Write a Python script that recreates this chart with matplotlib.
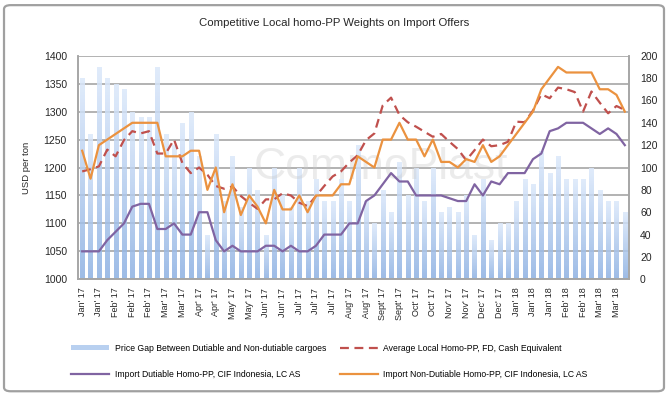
import matplotlib
matplotlib.use("Agg")
import matplotlib.pyplot as plt
import numpy as np
from matplotlib.colors import LinearSegmentedColormap
from matplotlib.lines import Line2D
from matplotlib.patches import Patch, FancyBboxPatch

plt.rcParams["font.family"] = ["Liberation Sans", "DejaVu Sans"]

# colours (Excel-like palette)
C_BAR_TOP = "#dce9fb"
C_BAR_BOT = "#8cb0e2"
C_LOCAL = "#c0504d"
C_DUT = "#8064a2"
C_NONDUT = "#eb923f"
C_GRID = "#a6a6a6"
C_TXT = "#262626"

# weekly observations, labels on every second week
TICK_LABELS = [
    "Jan' 17", "Jan' 17", "Feb' 17", "Feb' 17", "Feb' 17", "Mar' 17", "Mar' 17",
    "Apr' 17", "Apr' 17", "May' 17", "May' 17", "Jun' 17", "Jun' 17",
    "Jul' 17", "Jul' 17", "Jul' 17", "Aug' 17", "Aug' 17", "Sept' 17", "Sept' 17",
    "Oct' 17", "Oct' 17", "Nov' 17", "Nov' 17", "Dec' 17", "Dec' 17",
    "Jan' 18", "Jan' 18", "Jan' 18", "Feb' 18", "Feb' 18", "Mar' 18", "Mar' 18",
]

# right axis (USD/ton gap)
price_gap = [
    180, 130, 190, 180, 175, 170, 150, 145, 145, 190,
    130, 120, 140, 150, 110, 40, 130, 70, 110, 65,
    100, 80, 40, 100, 75, 65, 100, 70, 90, 70,
    70, 90, 70, 120, 70, 50, 80, 60, 105, 75,
    100, 70, 100, 60, 65, 60, 75, 40, 90, 35,
    50, 50, 70, 90, 85, 115, 95, 110, 90, 90,
    90, 100, 80, 70, 70, 60,
]

# left axis (USD per ton)
local_avg = [
    1193, 1197, 1202, 1232, 1220, 1249, 1265, 1261, 1265, 1225,
    1225, 1250, 1208, 1190, 1200, 1187, 1167, 1162, 1166, 1149,
    1137, 1126, 1143, 1143, 1154, 1150, 1137, 1131, 1149, 1167,
    1184, 1193, 1209, 1222, 1249, 1261, 1311, 1325, 1294, 1281,
    1273, 1264, 1255, 1260, 1246, 1233, 1213, 1231, 1250, 1238,
    1240, 1246, 1282, 1281, 1302, 1331, 1324, 1343, 1340, 1335,
    1300, 1336, 1316, 1297, 1310, 1303,
]
dutiable = [
    1050, 1050, 1050, 1070, 1085, 1100, 1130, 1135, 1135, 1090,
    1090, 1100, 1080, 1080, 1120, 1120, 1070, 1050, 1060, 1050,
    1050, 1050, 1060, 1060, 1050, 1060, 1050, 1050, 1060, 1080,
    1080, 1080, 1100, 1100, 1140, 1150, 1170, 1190, 1175, 1175,
    1150, 1150, 1150, 1150, 1145, 1140, 1140, 1170, 1150, 1175,
    1170, 1190, 1190, 1190, 1215, 1225, 1265, 1270, 1280, 1280,
    1280, 1270, 1260, 1270, 1260, 1240,
]
non_dutiable = [
    1230, 1180, 1240, 1250, 1260, 1270, 1280, 1280, 1280, 1280,
    1220, 1220, 1220, 1230, 1230, 1160, 1200, 1120, 1170, 1115,
    1150, 1130, 1100, 1160, 1125, 1125, 1150, 1120, 1150, 1150,
    1150, 1170, 1170, 1220, 1210, 1200, 1250, 1250, 1280, 1250,
    1250, 1220, 1250, 1210, 1210, 1200, 1215, 1210, 1240, 1210,
    1220, 1240, 1260, 1280, 1300, 1340, 1360, 1380, 1370, 1370,
    1370, 1370, 1340, 1340, 1330, 1300,
]

x = np.arange(len(price_gap))

fig = plt.figure(figsize=(6.68, 3.96), dpi=100)
fig.patch.set_facecolor("white")

# rounded outer frame
fig.patches.append(FancyBboxPatch(
    (0.006, 0.012), 0.988, 0.975, boxstyle="round,pad=0,rounding_size=0.01",
    transform=fig.transFigure, facecolor="none", edgecolor="#a0a0a0",
    linewidth=1.6))

ax = fig.add_axes([0.1168, 0.2947, 0.8248, 0.5646])   # bars, right scale
ax2 = ax.twinx()                                       # lines, left scale

# --- bars with vertical gradient
cmap = LinearSegmentedColormap.from_list("bar", [C_BAR_BOT, C_BAR_TOP])
grad = np.linspace(0, 1, 256).reshape(-1, 1)
bars = ax.bar(x, price_gap, width=0.5, color="none", edgecolor="none", zorder=2)
for b in bars:
    im = ax.imshow(grad, extent=[b.get_x(), b.get_x() + b.get_width(), 0, b.get_height()],
                   origin="lower", aspect="auto", cmap=cmap, alpha=0.85, zorder=2)
    im.set_clip_path(b)

ax.set_xlim(-0.5, len(x) - 0.5)
ax.set_ylim(0, 200)
ax.set_yticks(np.arange(0, 201, 20))
ax.yaxis.tick_right()
for yv in np.arange(0, 201, 25):
    ax.axhline(yv, color=C_GRID, linewidth=1.2, zorder=1)

# faint watermark
ax.text(0.55, 0.50, "CommoPlast", transform=ax.transAxes, ha="center", va="center",
        fontsize=32, color="#c8c8c8", alpha=0.35, zorder=3)

# --- lines
ax2.plot(x, local_avg, color=C_LOCAL, linewidth=1.6, dashes=(4, 2.5), zorder=3)
ax2.plot(x, dutiable, color=C_DUT, linewidth=1.6, zorder=3)
ax2.plot(x, non_dutiable, color=C_NONDUT, linewidth=1.6, zorder=3)
ax2.set_ylim(1000, 1400)
ax2.set_yticks(np.arange(1000, 1401, 50))
ax2.yaxis.tick_left()
ax2.yaxis.set_label_position("left")
ax2.set_ylabel("USD per ton", fontsize=6.8, color=C_TXT, labelpad=9)

ax.set_xticks(x[::2])
ax.set_xticklabels(TICK_LABELS, rotation=90, fontsize=6.5, color=C_TXT)

for a in (ax, ax2):
    a.tick_params(axis="y", length=0, labelsize=7.5, colors=C_TXT, pad=8)
    a.spines["top"].set_visible(False)
    for side in ("left", "bottom", "right"):
        a.spines[side].set_color(C_GRID)
        a.spines[side].set_linewidth(1.2)
ax.tick_params(axis="x", length=0, pad=6, colors=C_TXT)

fig.text(0.5, 0.942, "Competitive Local homo-PP Weights on Import Offers",
         ha="center", va="center", fontsize=8.2, color=C_TXT)

handles = [
    Patch(facecolor="#b8d0f0", edgecolor="none",
          label="Price Gap Between Dutiable and Non-dutiable cargoes"),
    Line2D([], [], color=C_DUT, linewidth=1.6,
           label="Import Dutiable Homo-PP, CIF Indonesia, LC AS"),
    Line2D([], [], color=C_LOCAL, linewidth=1.6, dashes=(4, 2.5),
           label="Average Local Homo-PP, FD, Cash Equivalent"),
    Line2D([], [], color=C_NONDUT, linewidth=1.6,
           label="Import Non-Dutiable Homo-PP, CIF Indonesia, LC AS"),
]
fig.legend(handles=handles, ncol=2, frameon=False, fontsize=6.2,
           loc="upper left", bbox_to_anchor=(0.107, 0.132), bbox_transform=fig.transFigure,
           handlelength=4.4, handleheight=0.6, labelspacing=2.0, columnspacing=1.6,
           handletextpad=0.6, borderaxespad=0, borderpad=0)

fig.savefig("out.png", dpi=100, facecolor="white")
